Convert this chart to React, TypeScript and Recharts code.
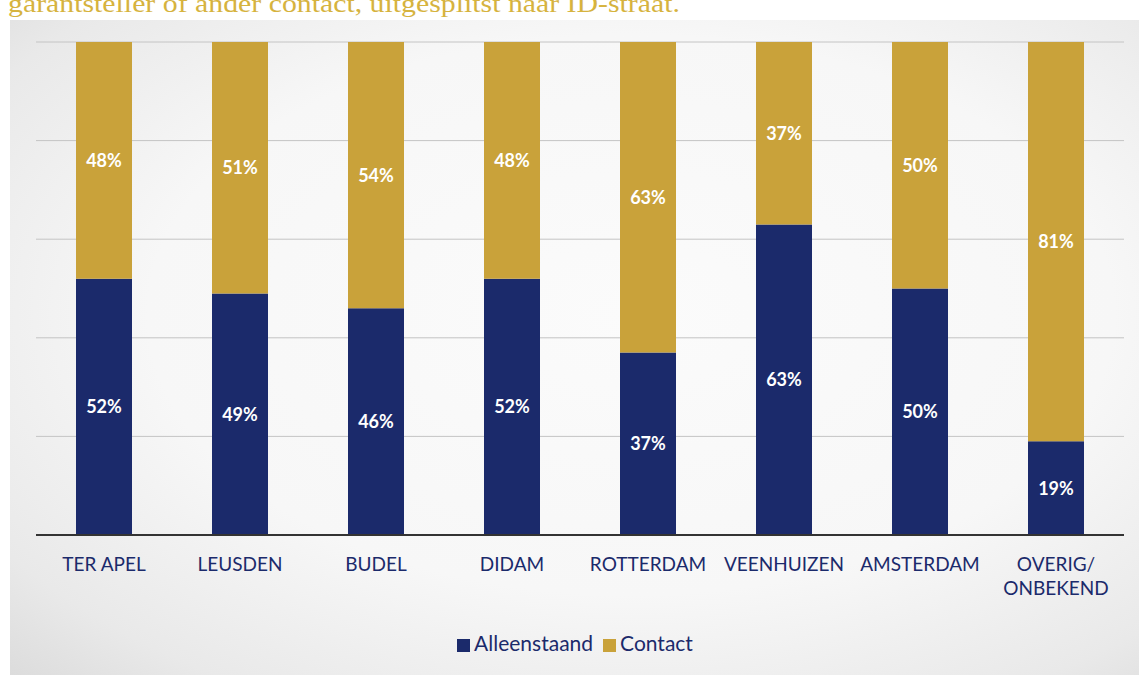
import React from "react";
import { Bar, BarChart, CartesianGrid, LabelList, Legend, XAxis, YAxis } from "recharts";

const categories = ["TER APEL", "LEUSDEN", "BUDEL", "DIDAM", "ROTTERDAM", "VEENHUIZEN", "AMSTERDAM", "OVERIG/ONBEKEND"];
const alleenstaand = [52, 49, 46, 52, 37, 63, 50, 19];
const contact = [48, 51, 54, 48, 63, 37, 50, 81];
const yTicks = [0, 20, 40, 60, 80, 100];

const data = categories.map((name, i) => ({
  name,
  alleenstaand: alleenstaand[i],
  contact: contact[i],
}));

const NAVY = "#1b2a6b";
const GOLD = "#c9a23a";
const FONT = "Lato, 'Open Sans', sans-serif";

function CategoryTick(props: any) {
  const { x, y, payload } = props;
  const parts = String(payload.value).includes("/")
    ? String(payload.value).replace("/", "/\n").split("\n")
    : [String(payload.value)];
  return (
    <text x={x} y={y} textAnchor="middle" fill={NAVY} fontFamily={FONT} fontSize={19}>
      {parts.map((p, i) => (
        <tspan key={i} x={x} dy={i === 0 ? 36 : 24}>
          {p}
        </tspan>
      ))}
    </text>
  );
}

const pct = (v: any) => `${v}%`;

export default function App() {
  return (
    <div
      style={{
        position: "absolute",
        left: 0,
        top: 0,
        width: 1139,
        height: 675,
        background: "#ffffff",
        overflow: "hidden",
      }}
    >
      <svg width={1139} height={20} style={{ position: "absolute", left: 0, top: 0 }}>
        <text
          x={8}
          y={12}
          fill="#d6b33e"
          fontFamily="'Liberation Serif', serif"
          fontSize={26}
          textLength={672}
          lengthAdjust="spacingAndGlyphs"
        >
          garantsteller of ander contact, uitgesplitst naar ID-straat.
        </text>
      </svg>
      <div
        style={{
          position: "absolute",
          left: 10,
          top: 20,
          right: 0,
          bottom: 0,
          background:
            "radial-gradient(ellipse at 55% 45%, #fbfbfb 0%, #f7f7f7 55%, #e9e9e9 85%, #dcdcdc 100%)",
        }}
      />
      <BarChart
        width={1139}
        height={675}
        data={data}
        margin={{ top: 42, right: 15, left: 36, bottom: 20 }}
        barSize={56}
        style={{ position: "absolute", left: 0, top: 0 }}
      >
        <CartesianGrid vertical={false} stroke="#c4c4c4" strokeWidth={1} />
        <YAxis hide domain={[0, 100]} ticks={yTicks} />
        <XAxis
          dataKey="name"
          axisLine={{ stroke: "#333333", strokeWidth: 2 }}
          tickLine={false}
          tickSize={0}
          tickMargin={0}
          interval={0}
          height={95}
          tick={<CategoryTick />}
        />
        <Legend
          verticalAlign="bottom"
          iconType="square"
          iconSize={13}
          wrapperStyle={{ fontFamily: FONT, fontSize: 21, paddingRight: 14 }}
          formatter={(value: any) => <span style={{ color: NAVY }}>{value}</span>}
        />
        <Bar dataKey="alleenstaand" name="Alleenstaand" stackId="a" fill={NAVY} isAnimationActive={false}>
          <LabelList
            dataKey="alleenstaand"
            position="center"
            formatter={pct}
            fill="#ffffff"
            fontFamily={FONT}
            fontWeight={700}
            fontSize={18}
          />
        </Bar>
        <Bar dataKey="contact" name="Contact" stackId="a" fill={GOLD} isAnimationActive={false}>
          <LabelList
            dataKey="contact"
            position="center"
            formatter={pct}
            fill="#ffffff"
            fontFamily={FONT}
            fontWeight={700}
            fontSize={18}
          />
        </Bar>
      </BarChart>
    </div>
  );
}
